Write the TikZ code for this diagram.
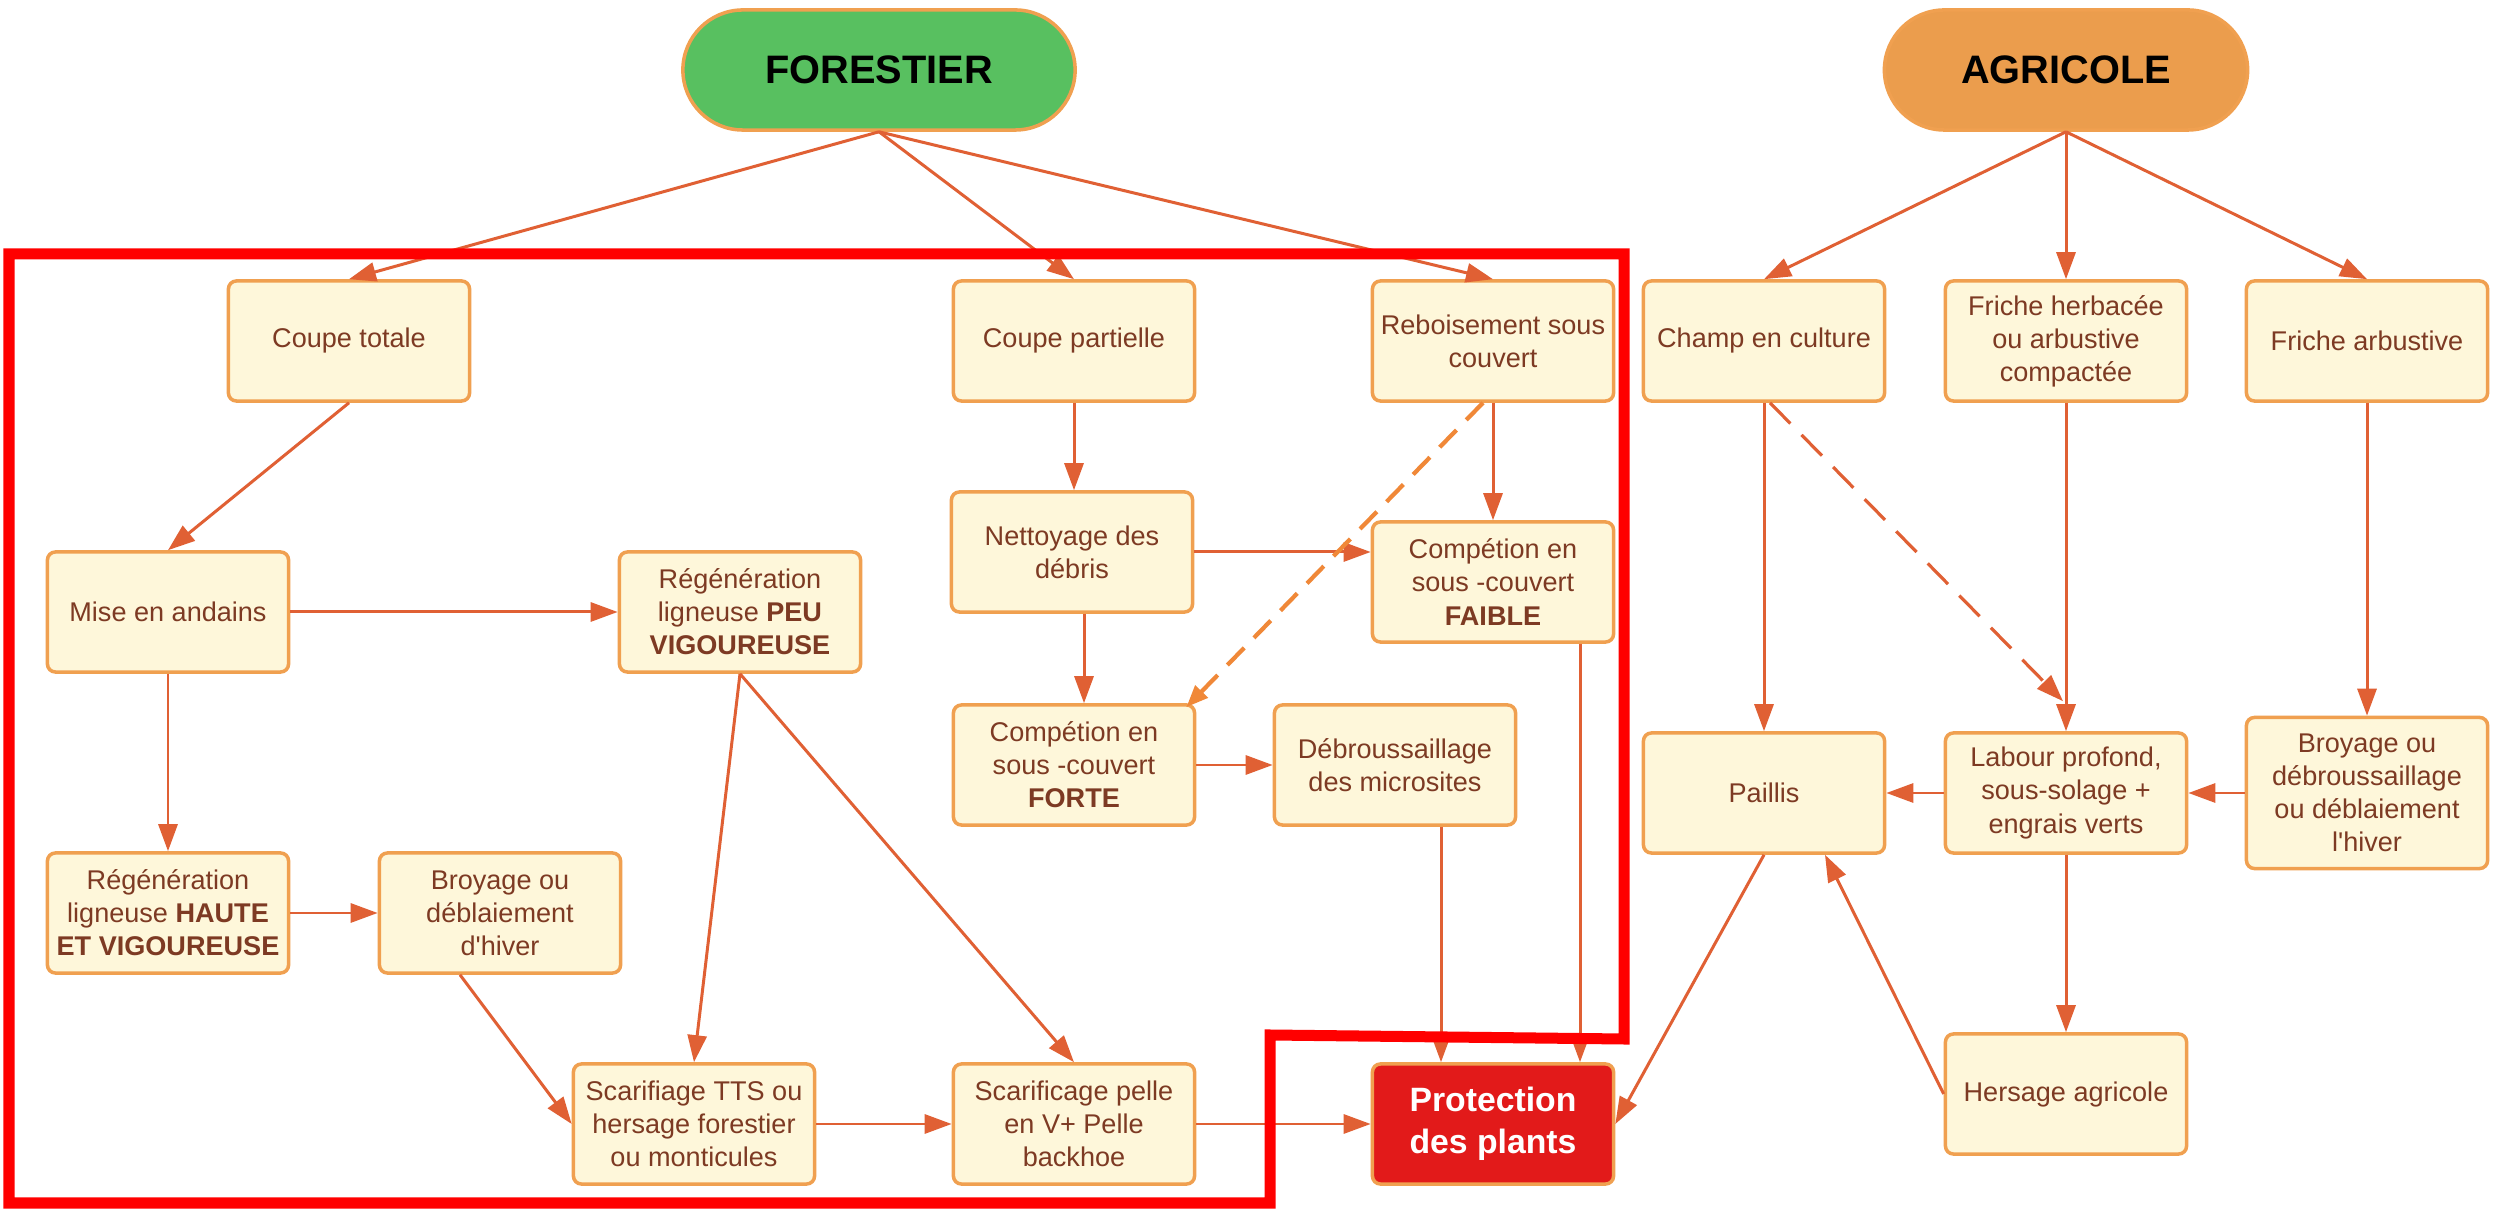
\documentclass[tikz,border=0pt]{standalone}
\usepackage{fontspec}
\setmainfont{Liberation Sans}[Ligatures=TeXOff]
\usetikzlibrary{arrows.meta,calc}
\definecolor{arr}{RGB}{224,96,52}
\definecolor{arrlight}{RGB}{240,136,56}
\definecolor{bord}{RGB}{240,160,80}
\definecolor{boxfill}{RGB}{254,247,218}
\definecolor{txt}{RGB}{125,58,35}
\definecolor{fgreen}{RGB}{88,192,96}
\definecolor{agor}{RGB}{235,157,77}
\definecolor{protred}{RGB}{226,26,26}
\definecolor{framered}{RGB}{255,0,0}
\begin{document}
\begin{tikzpicture}[x=0.01cm,y=-0.01cm,
  box/.style={draw=bord,line width=1pt,fill=boxfill,rounded corners=0.08cm,
    minimum width=2.41cm,minimum height=1.2cm,align=center,text=txt,
    font=\fontsize{7.7}{9.4}\selectfont,inner sep=0pt},
  head/.style={draw=bord,line width=1pt,rounded corners=0.6cm,minimum height=1.2cm,
    font=\fontsize{11.3}{13}\selectfont\bfseries,text=black},
  link/.style={draw=arr,line width=0.85pt,-{Triangle[length=0.27cm,width=0.19cm]}},
  dlinka/.style={draw=arrlight,line width=1.2pt,dash pattern=on 0.24cm off 0.14cm,
    -{Triangle[length=0.22cm,width=0.17cm]}},
  dlinkb/.style={draw=arr,line width=0.9pt,dash pattern=on 0.29cm off 0.16cm,
    -{Triangle[length=0.27cm,width=0.19cm]}},
  frameline/.style={draw=framered,line width=0.11cm,line join=miter}
]
\fill[white] (0,0) rectangle (2509,1210);
\useasboundingbox (0,0) rectangle (2509,1210);

\node[head,fill=fgreen,minimum width=3.92cm] (fore) at (879,70) {FORESTIER};
\node[head,fill=agor,minimum width=3.63cm] (agri) at (2066,70) {AGRICOLE};

\node[box] (ct) at (349,341) {Coupe totale};
\node[box] (cp) at (1074,341) {Coupe partielle};
\node[box] (rebo) at (1493,341) {Reboisement sous\\couvert};
\node[box] (champ) at (1764,341) {Champ en culture};
\node[box] (fh) at (2066,341) {Friche herbacée\\ou arbustive\\compactée};
\node[box] (fa) at (2367,341) {Friche arbustive};
\node[box] (mise) at (168,612) {Mise en andains};
\node[box] (peu) at (740,612) {Régénération\\ligneuse \textbf{PEU}\\\textbf{VIGOUREUSE}};
\node[box] (nett) at (1072,552) {Nettoyage des\\débris};
\node[box] (faible) at (1493,582) {Compétion en\\sous -couvert\\\textbf{FAIBLE}};
\node[box] (forte) at (1074,765) {Compétion en\\sous -couvert\\\textbf{FORTE}};
\node[box] (deb) at (1395,765) {Débroussaillage\\des microsites};
\node[box] (paillis) at (1764,793) {Paillis};
\node[box] (labour) at (2066,793) {Labour profond,\\sous-solage +\\engrais verts};
\node[box,minimum height=1.51cm] (broyr) at (2367,793) {Broyage ou\\débroussaillage\\ou déblaiement\\l'hiver};
\node[box] (haute) at (168,913) {Régénération\\ligneuse \textbf{HAUTE}\\\textbf{ET VIGOUREUSE}};
\node[box] (broyl) at (500,913) {Broyage ou\\déblaiement\\d'hiver};
\node[box] (tts) at (694,1124) {Scarifiage TTS ou\\hersage forestier\\ou monticules};
\node[box] (pelle) at (1074,1124) {Scarificage pelle\\en V+ Pelle\\backhoe};
\node[box,fill=protred,text=white,font=\fontsize{9.6}{11.9}\selectfont\bfseries] (prot) at (1493,1124) {Protection\\des plants};
\node[box] (hers) at (2066,1094) {Hersage agricole};

\coordinate (b1) at ($(broyl.south)+(-40,0)$);
\coordinate (n1) at ($(nett.south)+(12,0)$);
\coordinate (d1) at ($(deb.south)+(46,0)$);
\coordinate (f1) at ($(faible.south)+(87,0)$);
\coordinate (r1) at ($(rebo.south)+(-10,0)$);
\coordinate (r2) at ($(forte.north east)+(-10,4)$);
\coordinate (c1) at ($(champ.south)+(6,0)$);
\coordinate (c2) at ($(labour.north)+(-3,-30)$);
\coordinate (p1) at ($(paillis.south)+(61,0)$);

\draw[link] (fore.south) -- (ct.north);
\draw[link] (fore.south) -- (cp.north);
\draw[link] (fore.south) -- (rebo.north);
\draw[link] (agri.south) -- (champ.north);
\draw[link] (agri.south) -- (fh.north);
\draw[link] (agri.south) -- (fa.north);
\draw[link] (ct.south) -- (mise.north);
\draw[link] (mise.east) -- (peu.west);
\draw[link] (mise.south) -- (haute.north);
\draw[link] (haute.east) -- (broyl.west);
\draw[link] (b1) -- (tts.west);
\draw[link] (peu.south) -- (tts.north);
\draw[link] (peu.south) -- (pelle.north);
\draw[link] (tts.east) -- (pelle.west);
\draw[link] (pelle.east) -- (prot.west);
\draw[link] (cp.south) -- (cp.south |- nett.north);
\draw[link] (nett.east) -- (nett.east -| faible.west);
\draw[link] (n1) -- (n1 |- forte.north);
\draw[link] (rebo.south) -- (faible.north);
\draw[dlinka] (r1) -- (r2);
\draw[link] (forte.east) -- (deb.west);
\draw[link] (d1) -- (d1 |- prot.north);
\draw[link] (f1) -- (f1 |- prot.north);
\draw[link] (champ.south) -- (paillis.north);
\draw[dlinkb] (c1) -- (c2);
\draw[link] (fh.south) -- (labour.north);
\draw[link] (fa.south) -- (broyr.north);
\draw[link] (broyr.west) -- (labour.east);
\draw[link] (labour.west) -- (paillis.east);
\draw[link] (labour.south) -- (hers.north);
\draw[link] (paillis.south) -- (prot.east);
\draw[link] (hers.west) -- (p1);

\draw[frameline] (9,254) -- (1624,254) -- (1624,1039) -- (1270,1035) -- (1270,1203) -- (9,1203) -- cycle;
\end{tikzpicture}
\end{document}
